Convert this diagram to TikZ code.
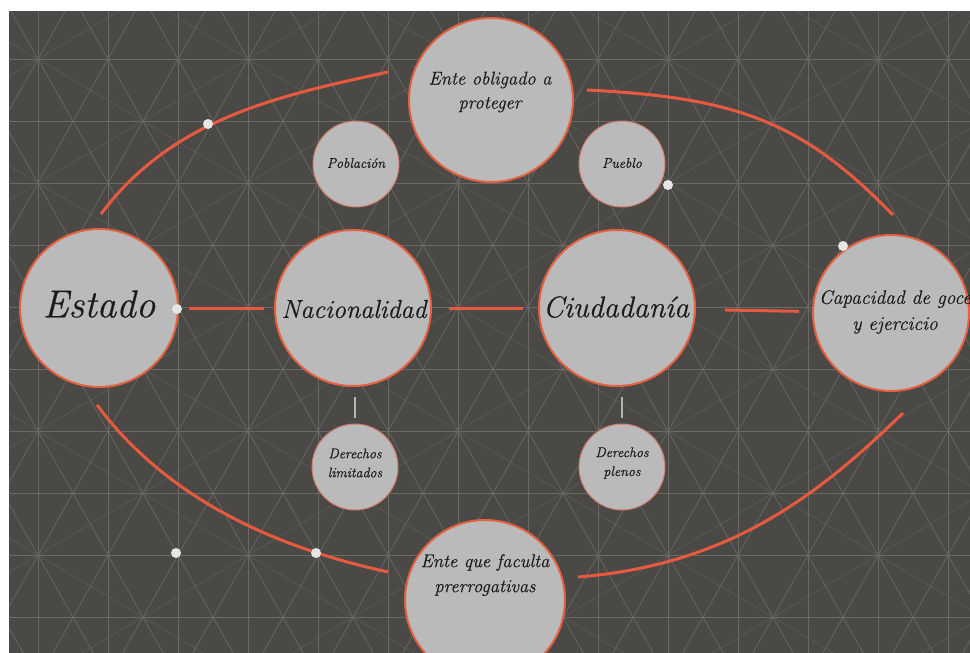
\documentclass[tikz,border=0pt]{standalone}
\usepackage{fontspec}
\newfontfamily\pfit{Latin Modern Roman}[FakeBold=0.5]
\definecolor{bgdark}{HTML}{4A4946}
\definecolor{linegray}{HTML}{696965}
\definecolor{circfill}{HTML}{BABABA}
\definecolor{circred}{HTML}{E4603F}
\definecolor{arcred}{HTML}{E85A3F}
\definecolor{smallred}{HTML}{D0786A}
\definecolor{txtdark}{HTML}{1C1C1C}
\definecolor{dotwhite}{HTML}{E6E6E6}
\definecolor{stemgray}{HTML}{B4B4B4}
\begin{document}
\begin{tikzpicture}[x=1pt,y=-1pt,
  bgline/.style={draw=linegray, line width=0.7pt},
  bglinetwo/.style={draw=linegray, line width=0.6pt, opacity=0.6},
  bigc/.style={circle, draw=circred, line width=2pt, fill=circfill, inner sep=0pt, minimum size=#1},
  smallc/.style={circle, draw=smallred, line width=1pt, fill=circfill, inner sep=0pt, minimum size=86pt},
  txt/.style={text=txtdark, align=center, inner sep=0pt},
  link/.style={draw=arcred, line width=3pt},
  arcline/.style={draw=arcred, line width=3pt},
  stem/.style={draw=stemgray, line width=1.2pt},
  wdot/.style={circle, fill=dotwhite, inner sep=0pt, minimum size=10pt}
]
\useasboundingbox (0,0) rectangle (970,653);
\fill[white] (0,0) rectangle (970,653);
\fill[bgdark] (9,11) rectangle (970,653);
\begin{scope}
\clip (9,11) rectangle (970,653);
\foreach \y in {59,121,...,617} \draw[bgline] (9,\y) -- (970,\y);
\foreach \x in {38,108,...,948} \draw[bgline] (\x,11) -- (\x,653);
\foreach \k in {-8,...,14} \draw[bgline] ({38+70*\k-89.8},-100) -- ({38+70*\k+395.6},760);
\foreach \k in {-1,...,20} \draw[bgline] ({38+70*\k+89.8},-100) -- ({38+70*\k-395.6},760);
\foreach \k in {-15,-12,...,15} \draw[bglinetwo] ({38+70*\k-269.3},-100) -- ({38+70*\k+1187},760);
\foreach \k in {-3,0,...,30} \draw[bglinetwo] ({38+70*\k+269.3},-100) -- ({38+70*\k-1187},760);
\end{scope}

% arcs
\coordinate (tla) at (101,214); \coordinate (tle) at (388,72);
\coordinate (tra) at (587,90);  \coordinate (tre) at (893,215);
\coordinate (bra) at (578,577); \coordinate (bre) at (903,413);
\coordinate (bla) at (97,405);  \coordinate (ble) at (388,572);
\draw[arcline] (tla) .. controls (173,118) and (278,96) .. (tle);
\draw[arcline] (tra) .. controls (737,97.5) and (802,121.4) .. (tre);
\draw[arcline] (bra) .. controls (728,565) and (816.6,497) .. (bre);
\draw[arcline] (bla) .. controls (169,501) and (278,548) .. (ble);

% circles
\node[bigc=158pt] (estado) at (99,308) {};
\node[bigc=156pt] (nac) at (353,308) {};
\node[bigc=156pt] (ciu) at (617,308) {};
\node[bigc=156pt] (cap) at (891,313) {};
\node[bigc=164pt] (enteo) at (491,100) {};
\node[bigc=160pt] (entef) at (485,600) {};
\node[smallc] (pob) at (356,164) {};
\node[smallc] (pue) at (622,164) {};
\node[smallc] (derl) at (355,467) {};
\node[smallc] (derp) at (622,467) {};

% connectors
\draw[link, shorten <=10pt, shorten >=10pt] (estado) -- (nac);
\draw[link, shorten <=17pt, shorten >=15pt] (nac) -- (ciu);
\draw[link, shorten <=29pt, shorten >=13pt] (ciu) -- (cap);
\draw[stem, shorten <=10pt, shorten >=6pt] (nac.south -| derl.north) -- (derl.north);
\draw[stem, shorten <=10pt, shorten >=6pt] (ciu.south -| derp.north) -- (derp.north);

% white dots
\node[wdot] (dota) at (208,124) {};
\node[wdot] (dotb) at (668,185) {};
\node[wdot] (dotc) at (843,246) {};
\node[wdot] (dotd) at (177,309) {};
\node[wdot] (dote) at (316,553) {};
\node[wdot] (dotf) at (176,553) {};

% texts
\node[txt, font=\pfit\itshape\fontsize{39pt}{46pt}\selectfont] (testado) at (99,304) {Estado};
\node[txt, font=\pfit\itshape\fontsize{26pt}{30pt}\selectfont] (tnac) at (354,309) {Nacionalidad};
\node[txt, font=\pfit\itshape\fontsize{30pt}{34pt}\selectfont] (tciu) at (616,307) {Ciudadanía};
\node[txt, font=\pfit\itshape\fontsize{19.5pt}{26pt}\selectfont] (tcap) at (895,312) {Capacidad de goce\\y ejercicio};
\node[txt, font=\pfit\itshape\fontsize{18.5pt}{24pt}\selectfont] (tenteo) at (490,92) {Ente obligado a\\proteger};
\node[txt, font=\pfit\itshape\fontsize{18.5pt}{25pt}\selectfont] (tentef) at (485,575) {Ente que faculta\\prerrogativas};
\node[txt, font=\pfit\itshape\fontsize{14pt}{16pt}\selectfont] (tpob) at (356,163) {Población};
\node[txt, font=\pfit\itshape\fontsize{14pt}{16pt}\selectfont] (tpue) at (622,163) {Pueblo};
\node[txt, font=\pfit\itshape\fontsize{14pt}{19pt}\selectfont] (tderl) at (355,463) {Derechos\\limitados};
\node[txt, font=\pfit\itshape\fontsize{14pt}{19pt}\selectfont] (tderp) at (622,463) {Derechos\\plenos};
\end{tikzpicture}
\end{document}
